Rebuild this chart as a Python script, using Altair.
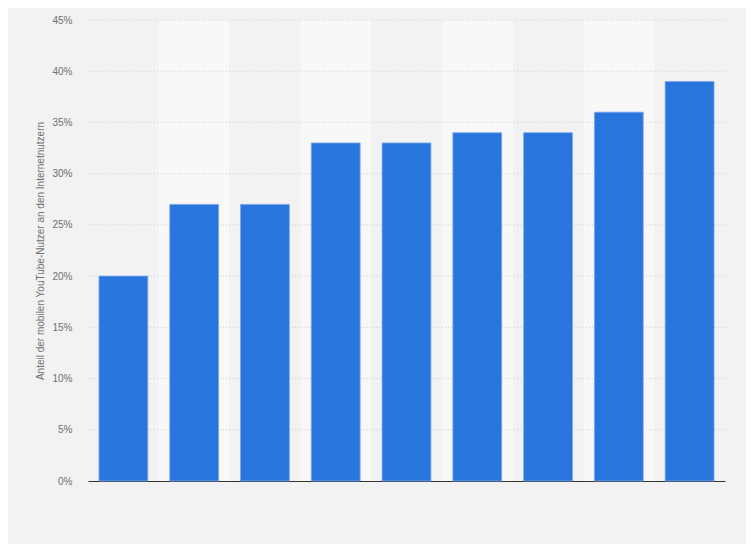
import altair as alt
import pandas as pd

categories = ["1", "2", "3", "4", "5", "6", "7", "8", "9"]
values = [20, 27, 27, 33, 33, 34, 34, 36, 39]
tick_values = [0, 5, 10, 15, 20, 25, 30, 35, 40, 45]

df = pd.DataFrame({"cat": categories, "val": values})
bands = pd.DataFrame({"cat": categories, "light": [i % 2 == 1 for i in range(len(categories))]})
grid = pd.DataFrame({"val": tick_values[1:]})

W, H = 637, 461
TITLE = "Anteil der mobilen YouTube-Nutzer an den Internetnutzern"
yscale = alt.Scale(domain=[0, 45], nice=False)
yaxis = alt.Axis(values=tick_values, labelExpr="datum.value + '%'", grid=False,
                 domain=False, ticks=False, labelPadding=16, labelColor="#707070",
                 labelFontSize=10, labelFont="Arial, Liberation Sans",
                 titleColor="#707070", titleFontSize=10, titleFontWeight="normal",
                 titleFont="Arial, Liberation Sans", titlePadding=6)

bg = alt.Chart(bands).transform_filter("datum.light").mark_rect(color="#f8f8f8").encode(
    x=alt.X("cat:N", sort=categories, axis=None,
            scale=alt.Scale(domain=categories, paddingInner=0, paddingOuter=0)),
    y=alt.value(0),
    y2=alt.value(H),
)

rules = alt.Chart(grid).mark_rule(color="#d0d0d0", strokeDash=[1, 2], strokeWidth=1).encode(
    y=alt.Y("val:Q", scale=yscale, title=TITLE, axis=yaxis),
)

bars = alt.Chart(df).mark_bar(color="#2876dd", stroke="#7aa8ec", strokeWidth=0.8).encode(
    x=alt.X("cat:N", sort=categories, title=None,
            scale=alt.Scale(domain=categories, paddingInner=0.31, paddingOuter=0.155),
            axis=alt.Axis(labels=False, ticks=False, domainColor="#333333", domainWidth=1.2)),
    y=alt.Y("val:Q", scale=yscale, title=TITLE, axis=yaxis),
)

chart = alt.layer(bg, rules, bars).resolve_scale(x="independent").properties(
    width=W, height=H, background="#f2f2f2",
    padding={"left": 80, "top": 12, "right": 21, "bottom": 63},
    autosize=alt.AutoSizeParams(type="none"),
).configure_view(stroke=None)

chart.save("out.html", embed_options={"renderer": "svg", "actions": False})
